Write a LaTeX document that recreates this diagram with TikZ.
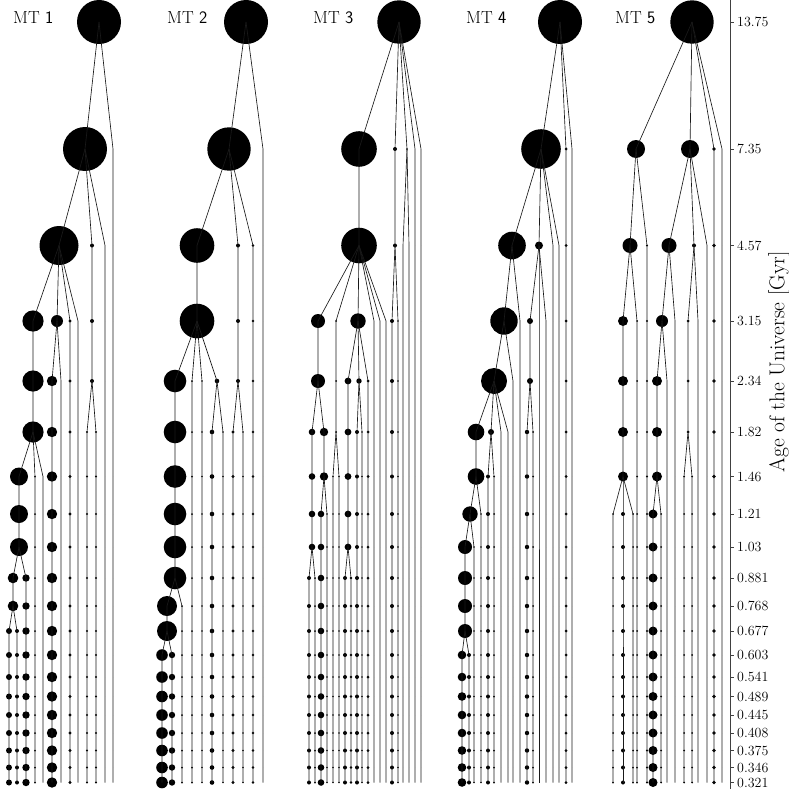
\documentclass[tikz,border=0pt]{standalone}
\usepackage{fontspec}
\begin{document}
\begin{tikzpicture}[x=1pt,y=-1pt,
  dot/.style={circle,fill=black,draw=none,inner sep=0pt,outer sep=0pt},
  edge/.style={line width=0.65pt,black!90},
  axisline/.style={line width=0.7pt,black!75},
  ticklab/.style={anchor=west,inner sep=0pt,font=\fontsize{14}{16}\selectfont},
  mtlab/.style={anchor=base west,inner sep=0pt,font=\fontsize{17.5}{20}\selectfont},
  axlab/.style={rotate=90,inner sep=0pt,font=\fontsize{21.5}{24}\selectfont}]
\useasboundingbox (0,0) rectangle (789,789);
\def\LY{{22,149,245.5,321,381,432,476.5,514,547,578,606,631,655,677,696.5,715,733,750.5,767.5,782.5}}
% x / first level / last level / dot radius / parent x (-1 = none)
\def\TreeData{%
99/0/0/22/-1, 85/1/1/22/99, 113/1/19/0/99, 59/2/2/19.5/85, 92/2/4/2/85, 105/2/19/0/85,
33/3/5/10.6/59, 57/3/3/6/59, 70/3/19/1.7/59, 78/3/19/0/59, 52/4/19/5.2/57, 61/4/19/0/57,
87/5/19/1.2/92, 96/5/19/1.2/92, 19/6/8/9/33, 35/6/19/1/33, 43/6/19/0/33,
13/9/10/5.3/19, 26/9/19/3.7/19, 9/11/19/3/13, 17/11/19/2/13,
246/0/0/22/-1, 229/1/1/21.7/246, 263/1/19/0/246, 197/2/3/17.3/229, 238/2/4/2/229, 253/2/19/1.3/229,
175/4/9/11.3/197, 192/4/19/1/197, 202/4/19/0.8/197, 217/4/4/2.3/197, 212/5/19/2.3/217, 223/5/19/0.8/217,
233/5/19/1.7/238, 243/5/19/0.8/238, 167/10/11/10/175, 182/10/19/1/175, 162/12/19/5.8/167, 172/12/19/3.2/167,
399/0/0/21.7/-1, 359/1/2/17.8/399, 395/1/2/2/399, 407/1/1/0.8/399, 415/1/19/0/399, 421/1/19/0/399,
403/2/19/0/407, 409/2/19/0/407, 318/3/4/7/359, 336/3/5/1/359, 358/3/3/7.7/359, 374/3/19/0/359,
380/3/19/0/359, 386/3/19/0/359, 392/3/19/2/395, 398/3/19/0.8/395, 348/4/8/3.4/358, 359/4/4/2.7/358,
368/4/19/1.5/358, 312/5/8/3.3/318, 324/5/6/4.2/318, 357/5/19/2/359, 362/5/19/0.8/359,
333/6/19/0.8/336, 339/6/19/0.8/336, 321/7/19/3.3/324, 327/7/19/0.8/324, 309/9/19/2/312,
315/9/19/1/312, 345/9/19/2/348, 351/9/19/1.3/348,
560/0/0/22/-1, 541/1/1/19.8/560, 566/1/19/1.5/560, 572/1/19/0/560, 512/2/2/13.8/541, 539/2/2/4/541,
553/2/19/0/541, 559/2/19/0/541, 504/3/3/13.7/512, 520/3/19/0/512, 530/3/4/3/539, 539/3/19/0/539,
546/3/19/0/539, 494/4/4/13/504, 513/4/19/0/504, 476/5/6/8.3/494, 491/5/5/3/494, 501/5/19/0/494,
508/5/19/0/494, 527/5/19/2.2/530, 533/5/19/1/530, 488/6/19/2/491, 494/6/19/1/491, 470/7/7/7.7/476,
481/7/19/0.8/476, 465/8/11/7/470, 474/8/19/0.8/470, 462/12/19/4.3/465, 469/12/19/2/465,
692/0/0/21.7/-1, 636/1/1/9/692, 690/1/1/9/692, 714/1/19/1.8/692, 722/1/19/0/692,
630/2/2/7.5/636, 647/2/19/1.2/636, 669/2/2/7.5/690, 694/2/2/2/690, 707/2/19/0/690,
623/3/6/5/630, 637/3/19/1/630, 662/3/3/6/669, 675/3/19/0/669, 688/3/5/1.5/694, 698/3/19/0/694,
657/4/6/5/662, 667/4/19/0/662, 684/6/19/1/688, 692/6/19/1/688,
613/7/19/1/623, 623/7/19/2/623, 633/7/19/1/623, 653/7/19/4.5/657, 661/7/19/1/657}
% halo nodes
\foreach \xa/\sa/\ea/\ra/\pa in \TreeData {
  \foreach \l in {\sa,...,\ea} {
    \pgfmathsetmacro\yy{\LY[\l]}
    \node[dot,minimum size=2*\ra] (n-\xa-\l) at (\xa,\yy) {};
  }
}
% branches
\foreach \xa/\sa/\ea/\ra/\pa in \TreeData {
  \ifdim\pa pt<0pt\relax
    \draw[edge] (n-\xa-\sa.center) -- (n-\xa-\ea.center);
  \else
    \pgfmathtruncatemacro\sm{\sa-1}
    \draw[edge] (n-\pa-\sm.center) -- (n-\xa-\sa.center) -- (n-\xa-\ea.center);
  \fi
}
% tree titles
\node[mtlab] (mt1) at (13,24) {MT \textsf{1}};
\node[mtlab] (mt2) at (167,24) {MT \textsf{2}};
\node[mtlab] (mt3) at (313,24) {MT \textsf{3}};
\node[mtlab] (mt4) at (466,24) {MT \textsf{4}};
\node[mtlab] (mt5) at (615,24) {MT \textsf{5}};
% axis
\coordinate (axtop) at (730,0);
\coordinate (axbot) at (730,789);
\draw[axisline] (axtop) -- (axbot);
\foreach \l/\t in {0/13.75,1/7.35,2/4.57,3/3.15,4/2.34,5/1.82,6/1.46,7/1.21,8/1.03,9/0.881,
  10/0.768,11/0.677,12/0.603,13/0.541,14/0.489,15/0.445,16/0.408,17/0.375,18/0.346,19/0.321} {
  \pgfmathsetmacro\yy{\LY[\l]}
  \coordinate (tk\l) at (730,\yy);
  \node[ticklab] (tl\l) at (737,\yy) {\t};
  \draw[axisline] (tk\l) -- ++(4,0);
}
\node[axlab] (ylab) at (779,362) {Age of the Universe [Gyr]};
\end{tikzpicture}
\end{document}
